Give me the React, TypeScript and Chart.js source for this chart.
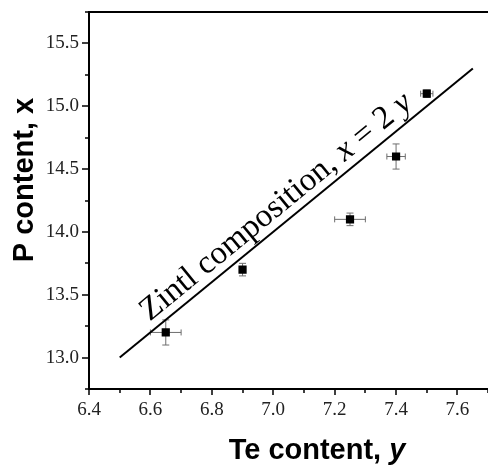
import React, { useEffect, useRef } from 'react';
import { Chart, registerables } from 'chart.js';

Chart.register(...registerables);

// Measured compositions: Te content (y) and P content (x) with their uncertainties
const teContent = [6.65, 6.9, 7.25, 7.4, 7.5];
const pContent = [13.2, 13.7, 14.1, 14.6, 15.1];
const teError = [0.05, 0.01, 0.05, 0.03, 0.02];
const pError = [0.1, 0.05, 0.05, 0.1, 0.03];

// Zintl composition line, x = 2y
const zintlTe = [6.5, 7.65];
const zintlP = [13.0, 15.3];

// Axis ranges and tick steps
const teRange = [6.4, 7.7];
const pRange = [12.75, 15.75];
const teStep = 0.1;
const pStep = 0.25;
const teLabelStep = 0.2;
const pLabelStep = 0.5;

const SERIF = '"Liberation Serif", "Times New Roman", serif';
const SANS = '"Liberation Sans", Arial, sans-serif';

type Run = { text: string; font: string };

function runsWidth(ctx: CanvasRenderingContext2D, runs: Run[]) {
  let w = 0;
  for (const r of runs) {
    ctx.font = r.font;
    w += ctx.measureText(r.text).width;
  }
  return w;
}

function drawRuns(ctx: CanvasRenderingContext2D, runs: Run[], x: number, y: number) {
  let cx = x;
  for (const r of runs) {
    ctx.font = r.font;
    ctx.fillText(r.text, cx, y);
    cx += ctx.measureText(r.text).width;
  }
}

function isMultiple(v: number, step: number) {
  const q = v / step;
  return Math.abs(q - Math.round(q)) < 1e-6;
}

const framePlugin = {
  id: 'frame',
  beforeDatasetsDraw(chart: any) {
    const { ctx, scales } = chart;
    const xs = scales.x;
    const ys = scales.y;
    ctx.save();
    ctx.strokeStyle = '#6e6e6e';
    ctx.lineWidth = 1;
    for (let i = 0; i < teContent.length; i++) {
      const px = xs.getPixelForValue(teContent[i]);
      const py = ys.getPixelForValue(pContent[i]);
      const x0 = xs.getPixelForValue(teContent[i] - teError[i]);
      const x1 = xs.getPixelForValue(teContent[i] + teError[i]);
      const y0 = ys.getPixelForValue(pContent[i] - pError[i]);
      const y1 = ys.getPixelForValue(pContent[i] + pError[i]);
      ctx.beginPath();
      // horizontal bar with end caps
      ctx.moveTo(x0, py);
      ctx.lineTo(x1, py);
      ctx.moveTo(x0, py - 3);
      ctx.lineTo(x0, py + 3);
      ctx.moveTo(x1, py - 3);
      ctx.lineTo(x1, py + 3);
      // vertical bar with end caps
      ctx.moveTo(px, y0);
      ctx.lineTo(px, y1);
      ctx.moveTo(px - 3.5, y0);
      ctx.lineTo(px + 3.5, y0);
      ctx.moveTo(px - 3.5, y1);
      ctx.lineTo(px + 3.5, y1);
      ctx.stroke();
    }
    ctx.restore();
  },
  afterDatasetsDraw(chart: any) {
    const { ctx, scales } = chart;
    const xs = scales.x;
    const ys = scales.y;
    // label along the Zintl line
    const ax = xs.getPixelForValue(zintlTe[0]);
    const ay = ys.getPixelForValue(zintlP[0]);
    const bx = xs.getPixelForValue(zintlTe[1]);
    const by = ys.getPixelForValue(zintlP[1]);
    const angle = Math.atan2(by - ay, bx - ax);
    const sx = xs.getPixelForValue(6.598);
    const sy = ys.getPixelForValue(13.285);
    const size = 33;
    const roman = `${size}px ${SERIF}`;
    const italic = `italic ${size}px ${SERIF}`;
    const runs: Run[] = [
      { text: 'Zintl composition, ', font: roman },
      { text: 'x', font: italic },
      { text: ' = 2 ', font: roman },
      { text: 'y', font: italic },
    ];
    ctx.save();
    ctx.fillStyle = '#000';
    ctx.textBaseline = 'alphabetic';
    ctx.textAlign = 'left';
    ctx.translate(sx, sy);
    ctx.rotate(angle);
    drawRuns(ctx, runs, 0, 0);
    ctx.restore();
  },
  afterDraw(chart: any) {
    const { ctx, chartArea: ca, scales } = chart;
    const xs = scales.x;
    const ys = scales.y;
    ctx.save();
    ctx.strokeStyle = '#000';
    ctx.lineWidth = 2;
    ctx.beginPath();
    ctx.moveTo(ca.left, ca.top);
    ctx.lineTo(ca.right, ca.top);
    ctx.moveTo(ca.left, ca.top - 1);
    ctx.lineTo(ca.left, ca.bottom + 1);
    ctx.moveTo(ca.left - 1, ca.bottom);
    ctx.lineTo(ca.right, ca.bottom);
    ctx.stroke();

    // outward tick marks, longer at labelled values
    ctx.lineWidth = 1.5;
    ctx.beginPath();
    for (const t of xs.ticks) {
      const px = Math.round(xs.getPixelForValue(t.value));
      const len = isMultiple(t.value - teRange[0], teLabelStep) ? 6 : 4;
      ctx.moveTo(px, ca.bottom);
      ctx.lineTo(px, ca.bottom + len);
    }
    for (const t of ys.ticks) {
      const py = Math.round(ys.getPixelForValue(t.value));
      const len = isMultiple(t.value, pLabelStep) ? 7 : 4;
      ctx.moveTo(ca.left, py);
      ctx.lineTo(ca.left - len, py);
    }
    ctx.stroke();

    // axis titles
    ctx.fillStyle = '#000';
    ctx.textBaseline = 'alphabetic';
    const tsize = 29;
    const bold = `bold ${tsize}px ${SANS}`;
    const boldItalic = `italic bold ${tsize}px ${SANS}`;
    const xTitle: Run[] = [
      { text: 'Te content, ', font: bold },
      { text: 'y', font: boldItalic },
    ];
    const xw = runsWidth(ctx, xTitle);
    drawRuns(ctx, xTitle, 317 - xw / 2, 459);

    const yTitle: Run[] = [{ text: 'P content, x', font: bold }];
    const yw = runsWidth(ctx, yTitle);
    ctx.translate(33, 180);
    ctx.rotate(-Math.PI / 2);
    drawRuns(ctx, yTitle, -yw / 2, 0);
    ctx.restore();
  },
};

export default function App() {
  const ref = useRef<HTMLCanvasElement | null>(null);

  useEffect(() => {
    if (!ref.current) return;
    const tickFont = { family: SERIF, size: 19 };
    const chart = new Chart(ref.current, {
      type: 'scatter',
      data: {
        datasets: [
          {
            label: 'Zintl composition',
            data: zintlTe.map((t, i) => ({ x: t, y: zintlP[i] })),
            showLine: true,
            borderColor: '#000',
            borderWidth: 2,
            pointRadius: 0,
            fill: false,
          },
          {
            label: 'Measured',
            data: teContent.map((t, i) => ({ x: t, y: pContent[i] })),
            pointStyle: 'rect',
            pointRadius: 5.8,
            pointBackgroundColor: '#000',
            pointBorderWidth: 0,
            showLine: false,
          },
        ],
      },
      options: {
        animation: false,
        responsive: false,
        events: [],
        layout: { padding: { top: 12, left: 0, right: 0, bottom: 0 } },
        plugins: {
          legend: { display: false },
          tooltip: { enabled: false },
        },
        scales: {
          x: {
            type: 'linear',
            min: teRange[0],
            max: teRange[1],
            afterFit: (s: any) => {
              s.height = 79;
              s.paddingLeft = 0;
              s.paddingRight = 0;
            },
            grid: { display: false, drawTicks: false },
            border: { display: false },
            ticks: {
              stepSize: teStep,
              autoSkip: false,
              maxRotation: 0,
              padding: 10,
              color: '#222',
              font: tickFont,
              callback: (v: any) =>
                isMultiple(Number(v) - teRange[0], teLabelStep) ? Number(v).toFixed(1) : '',
            },
          },
          y: {
            type: 'linear',
            min: pRange[0],
            max: pRange[1],
            afterFit: (s: any) => {
              s.width = 89;
              s.paddingTop = 0;
              s.paddingBottom = 0;
            },
            grid: { display: false, drawTicks: false },
            border: { display: false },
            ticks: {
              stepSize: pStep,
              autoSkip: false,
              padding: 10,
              color: '#222',
              font: tickFont,
              callback: (v: any) => (isMultiple(Number(v), pLabelStep) ? Number(v).toFixed(1) : ''),
            },
          },
        },
      },
      plugins: [framePlugin],
    });
    return () => chart.destroy();
  }, []);

  // the plot frame runs off the right edge, so the canvas is a little wider than its box
  return (
    <div
      style={{
        position: 'absolute',
        left: 0,
        top: 0,
        width: 488,
        height: 468,
        overflow: 'hidden',
        background: '#fff',
      }}
    >
      <canvas ref={ref} width={494} height={468} style={{ display: 'block' }} />
    </div>
  );
}
